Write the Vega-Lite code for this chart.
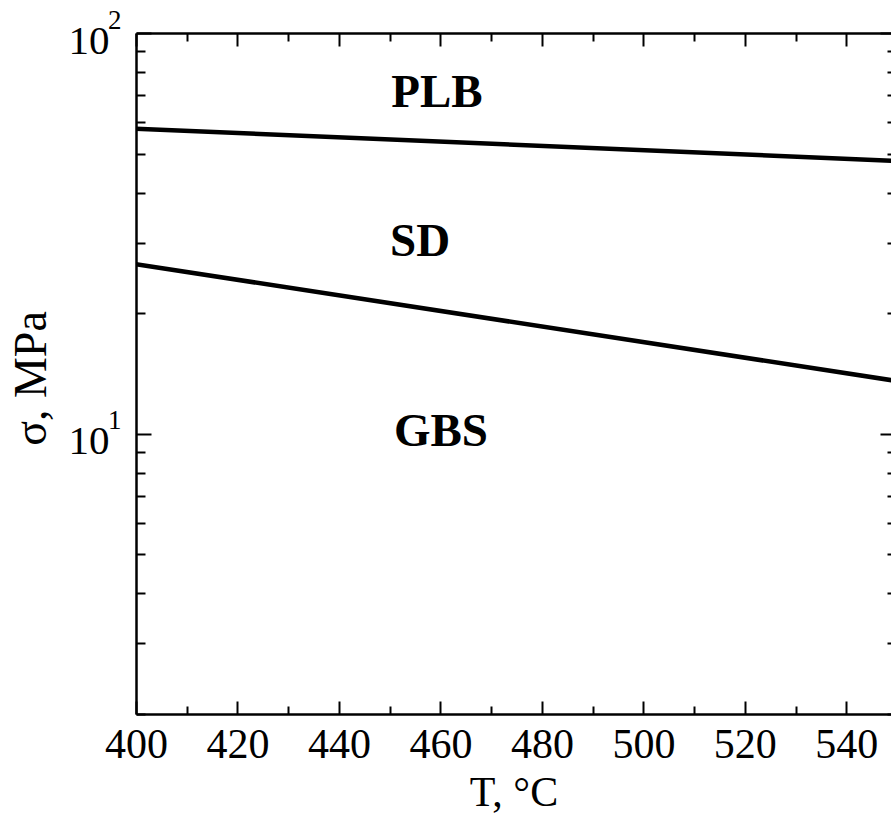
{
  "$schema": "https://vega.github.io/schema/vega-lite/v6.json",
  "width": 755,
  "height": 681,
  "autosize": {"type": "none"},
  "padding": {"left": 136, "top": 33, "right": 0, "bottom": 100},
  "background": "white",
  "config": {"view": {"stroke": null}},
  "datasets": {
    "lines": [
      {"boundary": "PLB/SD", "T": 400, "sigma": 57.7},
      {"boundary": "PLB/SD", "T": 549, "sigma": 48.0},
      {"boundary": "SD/GBS", "T": 400, "sigma": 26.5},
      {"boundary": "SD/GBS", "T": 549, "sigma": 13.6}
    ],
    "regions": [
      {"name": "PLB", "T": 459.3, "sigma": 65.5},
      {"name": "SD", "T": 456.0, "sigma": 27.7},
      {"name": "GBS", "T": 460.1, "sigma": 9.33}
    ]
  },
  "layer": [
    {
      "data": {"name": "lines"},
      "transform": [{"filter": "datum.boundary === 'PLB/SD'"}],
      "mark": {"type": "line", "color": "black", "strokeWidth": 4.5, "clip": true},
      "encoding": {
        "x": {
          "field": "T", "type": "quantitative",
          "scale": {"domain": [400, 548.8], "nice": false, "zero": false},
          "axis": {
            "orient": "bottom",
            "values": [400, 410, 420, 430, 440, 450, 460, 470, 480, 490, 500, 510, 520, 530, 540],
            "labelExpr": "datum.value % 20 === 0 ? datum.label : ''",
            "format": "d",
            "tickSize": {"condition": {"test": "datum.value % 20 === 0", "value": -13}, "value": -8},
            "tickWidth": 2, "tickColor": "black",
            "domainColor": "black", "domainWidth": 2.5,
            "grid": false, "labelOverlap": false, "labelFlush": false,
            "labelFont": "Liberation Serif", "labelFontSize": 42, "labelColor": "black", "labelPadding": 23,
            "title": "T, °C",
            "titleFont": "Liberation Serif", "titleFontSize": 42, "titleFontWeight": "normal", "titleColor": "black",
            "titlePadding": 2
          }
        },
        "y": {
          "field": "sigma", "type": "quantitative",
          "scale": {"type": "log", "domain": [2, 100], "nice": false, "zero": false},
          "axis": {
            "orient": "left",
            "values": [2, 3, 4, 5, 6, 7, 8, 9, 10, 20, 30, 40, 50, 60, 70, 80, 90, 100],
            "labelExpr": "datum.value === 10 || datum.value === 100 ? '10' : ''",
            "tickSize": {"condition": {"test": "datum.value === 10 || datum.value === 100", "value": -15}, "value": -9},
            "tickWidth": 2, "tickColor": "black",
            "domainColor": "black", "domainWidth": 2.5,
            "grid": false, "labelOverlap": false, "labelFlush": false,
            "labelFont": "Liberation Serif", "labelFontSize": 41, "labelColor": "black", "labelPadding": 42,
            "labelOffset": 8,
            "title": "σ, MPa",
            "titleFont": "Liberation Serif", "titleFontSize": 46, "titleFontWeight": "normal", "titleColor": "black",
            "titleAngle": -90, "titleAlign": "center", "titleBaseline": "alphabetic",
            "titleX": -91, "titleY": 345
          }
        }
      }
    },
    {
      "data": {"name": "lines"},
      "transform": [{"filter": "datum.boundary === 'SD/GBS'"}],
      "mark": {"type": "line", "color": "black", "strokeWidth": 4.5, "clip": true},
      "encoding": {
        "x": {
          "field": "T", "type": "quantitative",
          "scale": {"domain": [400, 548.8], "nice": false, "zero": false},
          "axis": {
            "orient": "top",
            "values": [400, 410, 420, 430, 440, 450, 460, 470, 480, 490, 500, 510, 520, 530, 540],
            "labels": false,
            "tickSize": {"condition": {"test": "datum.value % 20 === 0", "value": -13}, "value": -8},
            "tickWidth": 2, "tickColor": "black",
            "domainColor": "black", "domainWidth": 2.5,
            "grid": false, "title": null
          }
        },
        "y": {
          "field": "sigma", "type": "quantitative",
          "scale": {"type": "log", "domain": [2, 100], "nice": false, "zero": false},
          "axis": {
            "orient": "right",
            "values": [2, 3, 4, 5, 6, 7, 8, 9, 10, 20, 30, 40, 50, 60, 70, 80, 90, 100],
            "labels": false,
            "tickSize": {"condition": {"test": "datum.value === 10 || datum.value === 100", "value": -11}, "value": -4},
            "tickWidth": 2, "tickColor": "black",
            "domain": false,
            "grid": false, "title": null
          }
        }
      }
    },
    {
      "data": {"name": "regions"},
      "mark": {"type": "text", "font": "Liberation Serif", "fontWeight": "bold", "fontSize": 47, "color": "black", "align": "center", "baseline": "alphabetic"},
      "encoding": {
        "text": {"field": "name"},
        "x": {
          "field": "T", "type": "quantitative",
          "scale": {"domain": [400, 548.8], "nice": false, "zero": false},
          "axis": null
        },
        "y": {
          "field": "sigma", "type": "quantitative",
          "scale": {"type": "log", "domain": [2, 100], "nice": false, "zero": false},
          "axis": {
            "orient": "left",
            "values": [10, 100],
            "labelExpr": "datum.value === 10 ? '1' : '2'",
            "ticks": false, "domain": false, "grid": false,
            "labelOverlap": false, "labelFlush": false,
            "labelFont": "Liberation Serif", "labelFontSize": 27, "labelColor": "black", "labelPadding": 15,
            "labelOffset": -13,
            "title": null
          }
        }
      }
    }
  ],
  "resolve": {"scale": {"x": "independent", "y": "independent"}, "axis": {"x": "independent", "y": "independent"}}
}
